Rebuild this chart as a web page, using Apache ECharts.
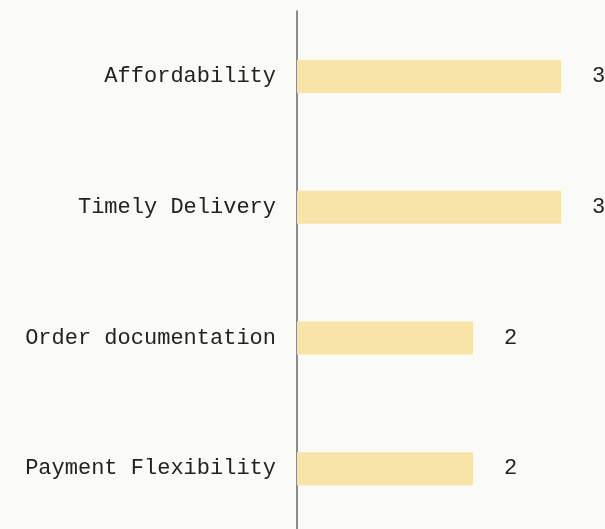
<!DOCTYPE html>
<html>
<head>
<meta charset="utf-8">
<script src="https://cdn.jsdelivr.net/npm/echarts@6/dist/echarts.min.js"></script>
<style>
  html, body { margin: 0; padding: 0; background: #fafaf6; }
  #chart { width: 605px; height: 529px; }
</style>
</head>
<body>
<div id="chart"></div>
<script>
var categories = ['Affordability', 'Timely Delivery', 'Order documentation', 'Payment Flexibility'];
var counts = [3, 3, 2, 2];

var myChart = echarts.init(document.getElementById('chart'));
var option = {
  backgroundColor: '#fafaf6',
  grid: { left: 297, right: 0, top: 11, height: 523, outerBoundsMode: 'none' },
  xAxis: {
    type: 'value',
    min: 0,
    max: 3.5,
    show: false
  },
  yAxis: {
    type: 'category',
    data: categories,
    inverse: true,
    axisLine: { show: true, lineStyle: { color: '#666', width: 1.5 } },
    axisTick: { show: false },
    axisLabel: {
      margin: 21,
      color: '#222',
      fontFamily: 'Liberation Mono',
      fontSize: 22
    }
  },
  series: [{
    type: 'bar',
    data: counts,
    barWidth: 33,
    itemStyle: { color: '#f8e4a8' },
    label: {
      show: true,
      position: 'right',
      distance: 31,
      color: '#222',
      fontFamily: 'Liberation Mono',
      fontSize: 22
    }
  }]
};
myChart.setOption(option);
window.onresize = myChart.resize;
</script>
</body>
</html>
